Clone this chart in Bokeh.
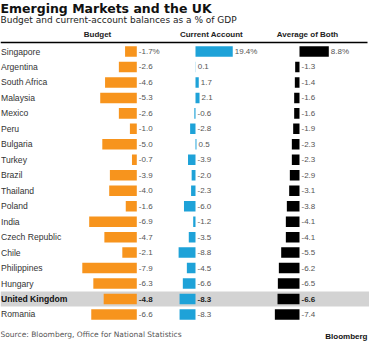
from bokeh.plotting import figure
from bokeh.models import ColumnDataSource, Range1d
from bokeh.embed import file_html
from bokeh.resources import INLINE
from bokeh.core.properties import value

countries = ["Singapore", "Argentina", "South Africa", "Malaysia", "Mexico", "Peru",
             "Bulgaria", "Turkey", "Brazil", "Thailand", "Poland", "India",
             "Czech Republic", "Chile", "Philippines", "Hungary", "United Kingdom", "Romania"]
budget = [-1.7, -2.6, -4.6, -5.3, -2.6, -1.0, -5.0, -0.7, -3.9, -4.0, -1.6, -6.9,
          -4.7, -2.1, -7.9, -6.3, -4.8, -6.6]
current = [19.4, 0.1, 1.7, 2.1, -0.6, -2.8, 0.5, -3.9, -2.0, -2.3, -6.0, -1.2,
           -3.5, -8.8, -4.5, -6.6, -8.3, -8.3]
average = [8.8, -1.3, -1.4, -1.6, -1.6, -1.9, -2.3, -2.3, -2.9, -3.1, -3.8, -4.1,
           -4.1, -5.5, -6.2, -6.5, -6.6, -7.4]
headers = ["Budget", "Current Account", "Average of Both"]
highlight = "United Kingdom"

title = "Emerging Markets and the UK"
subtitle = "Budget and current-account balances as a % of GDP"
source_note = "Source: Bloomberg, Office for National Statistics"
brand = "Bloomberg"

W, H = 369, 343
SANS = value("Liberation Sans")
DJ = value("DejaVu Sans")

p = figure(width=W, height=H, output_backend="svg", toolbar_location=None,
           x_range=Range1d(0, W), y_range=Range1d(H, 0), min_border=0)
p.axis.visible = False
p.grid.visible = False
p.outline_line_color = None
p.background_fill_color = "white"

# panel scales: (zero pixel, px per unit)
def panel_range(zero, ppu):
    return Range1d(-zero / ppu, (W - zero) / ppu)

p.extra_x_ranges = {
    "budget": panel_range(136.3, 6.9),
    "current": panel_range(195.0, 1.92),
    "average": panel_range(299.0, 3.33),
}
row0, step = 51.0, 15.47
p.extra_y_ranges = {"rows": Range1d((H - row0) / step, -row0 / step)}

n = len(countries)
rows = list(range(n))

def fmt(v, first):
    s = f"{v:.1f}"
    return s + "%" if first else s

is_hl = [c == highlight for c in countries]
src = ColumnDataSource(dict(
    row=rows, country=countries,
    budget=budget, current=current, average=average,
    budget_lx=[max(v, 0) for v in budget],
    current_lx=[max(v, 0) for v in current],
    average_lx=[max(v, 0) for v in average],
    budget_t=[fmt(v, i == 0) for i, v in enumerate(budget)],
    current_t=[fmt(v, i == 0) for i, v in enumerate(current)],
    average_t=[fmt(v, i == 0) for i, v in enumerate(average)],
))
hl_idx = [i for i in rows if is_hl[i]]
nrm_idx = [i for i in rows if not is_hl[i]]

def sub(idx):
    return ColumnDataSource({k: [src.data[k][i] for i in idx] for k in src.data})

src_n, src_h = sub(nrm_idx), sub(hl_idx)

# highlight band
p.hbar(y="row", left=0, right=W, height=0.97, source=src_h, y_range_name="rows",
       fill_color="#d3d3d3", line_color=None)

# header line
p.segment(x0=[0], x1=[367], y0=[42], y1=[42], line_color="black", line_width=1.6)

colors = {"budget": "#f7941d", "current": "#1ea2d8", "average": "#000000"}
for key in ["budget", "current", "average"]:
    p.hbar(y="row", left=0, right=key, height=0.68, source=src, x_range_name=key,
           y_range_name="rows", fill_color=colors[key], line_color=None)
    p.text(x=key + "_lx", y="row", text=key + "_t", source=src_n, x_range_name=key,
           y_range_name="rows", x_offset=2, text_font=SANS, text_font_size="8px",
           text_color="#555555", text_baseline="middle", text_align="left")
    p.text(x=key + "_lx", y="row", text=key + "_t", source=src_h, x_range_name=key,
           y_range_name="rows", x_offset=2, text_font=SANS, text_font_size="8px",
           text_font_style="bold", text_color="#222222", text_baseline="middle",
           text_align="left")

# country labels
p.text(x=0.5, y="row", text="country", source=src_n, y_range_name="rows",
       text_font=SANS, text_font_size="8.6px", text_color="#333333",
       text_baseline="middle", text_align="left")
p.text(x=0.5, y="row", text="country", source=src_h, y_range_name="rows",
       text_font=SANS, text_font_size="8.6px", text_font_style="bold",
       text_color="#111111", text_baseline="middle", text_align="left")

# headers
p.text(x=[97, 211, 307], y=[34, 34, 34], text=headers, text_font=SANS,
       text_font_size="8px", text_font_style="bold", text_color="#222222",
       text_baseline="middle", text_align="center")

# title, subtitle
p.text(x=[0], y=[7.5], text=[title], text_font=DJ, text_font_size="12.5px",
       text_font_style="bold", text_color="#111111", text_baseline="alphabetic")
p.text(x=[0], y=[19.5], text=[subtitle], text_font=DJ, text_font_size="9px",
       text_color="#222222", text_baseline="alphabetic")

# footer
p.text(x=[0], y=[334], text=[source_note], text_font=DJ, text_font_size="7.5px",
       text_color="#555555", text_baseline="middle")
p.text(x=[367], y=[336], text=[brand], text_font=SANS, text_font_size="8px",
       text_font_style="bold", text_color="#111111", text_baseline="middle",
       text_align="right")

open("out.html", "w").write(file_html(p, INLINE))
